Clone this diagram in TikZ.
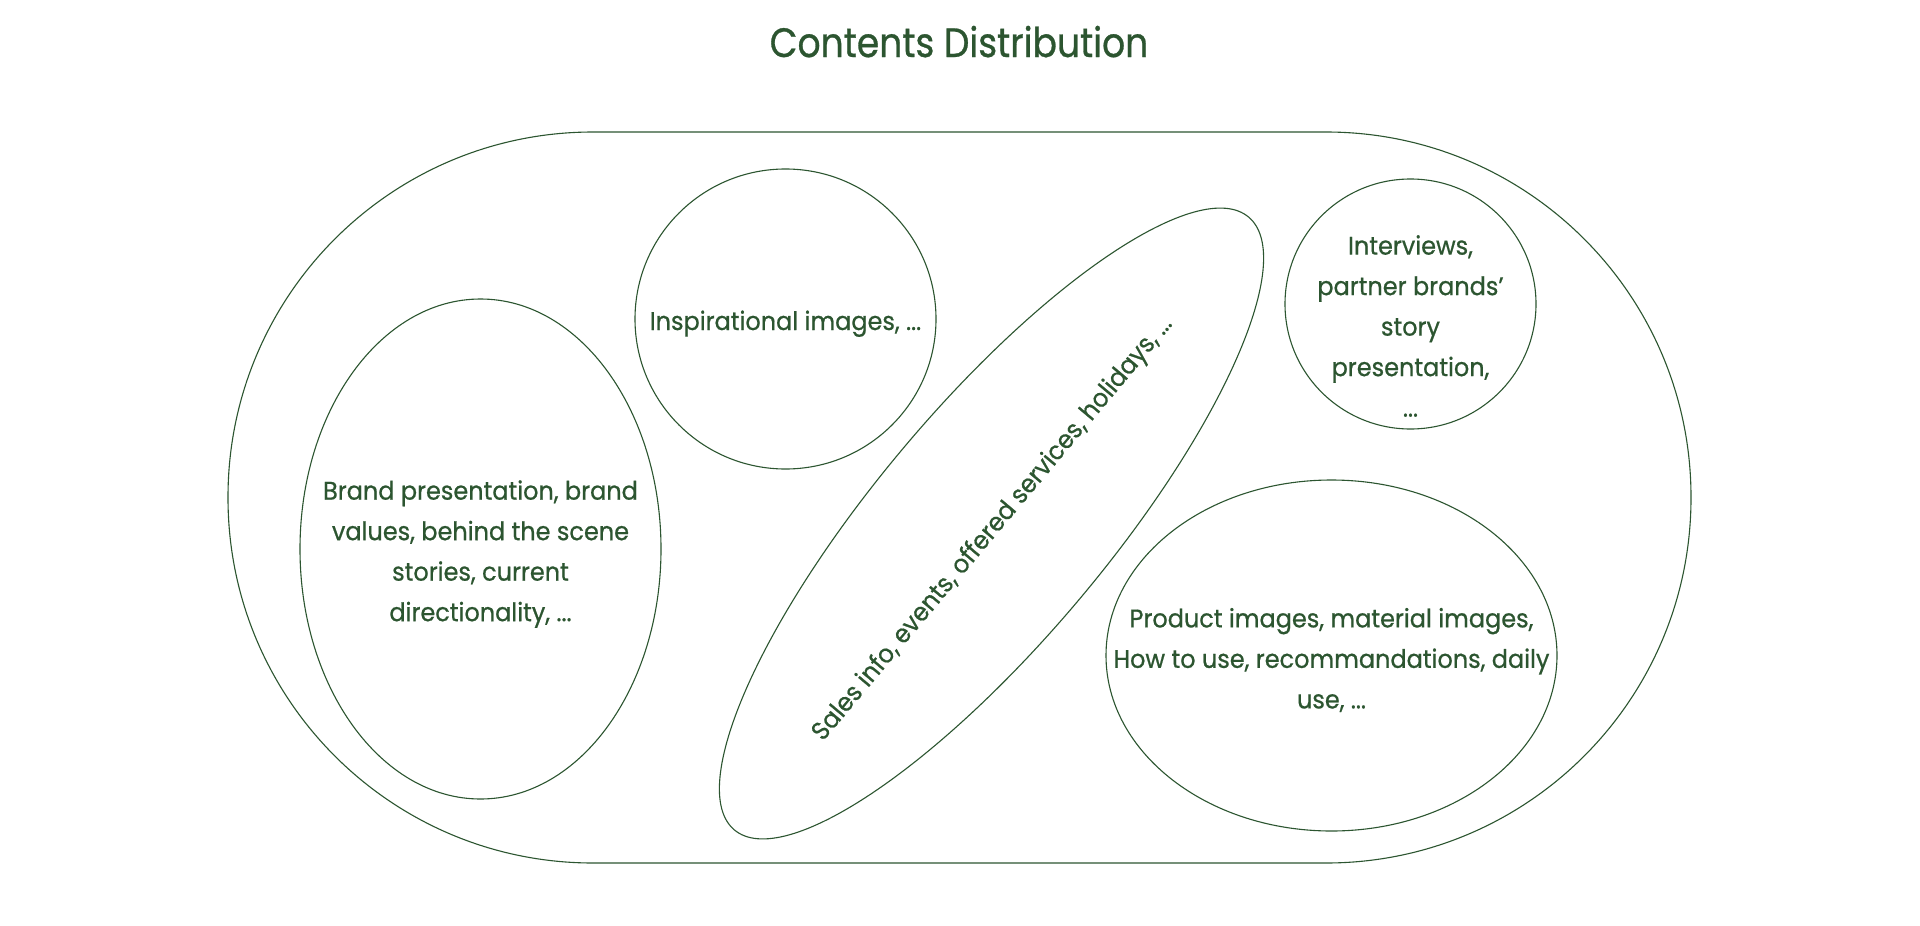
\documentclass[tikz,border=0pt]{standalone}
\usepackage{fontspec}
\setmainfont{Poppins}[FakeStretch=0.94, FakeBold=0.7]
\newfontfamily\titlefont{Poppins}[FakeStretch=0.88, FakeBold=0.7]
\usetikzlibrary{shapes.geometric}
\definecolor{leaf}{RGB}{44,85,48}
\tikzset{
  outline/.style={draw=leaf, line width=1.1pt},
  blob/.style={outline, ellipse, inner sep=0pt},
  label/.style={text=leaf, align=center, inner sep=0pt, font=\fontsize{25.5}{40.5}\selectfont},
}
\begin{document}
\begin{tikzpicture}[x=1pt,y=-1pt]
\useasboundingbox (0,0) rectangle (1920,926);
\fill[white] (0,0) rectangle (1920,926);
% title
\node[text=leaf, anchor=base, inner sep=0pt, font=\titlefont\fontsize{41}{48}\selectfont] (title) at (959,57) {Contents Distribution};
% outer stadium
\draw[outline, rounded corners=365pt] (228,132) rectangle (1691,863);
\coordinate (outer) at (959.5,497.5);
% shapes
\node[blob, minimum width=361pt, minimum height=500pt] (brand) at (480.5,549) {};
\node[blob, minimum width=301pt, minimum height=300pt] (insp) at (785.5,319) {};
\node[blob, minimum width=251pt, minimum height=250pt] (inter) at (1410.5,304) {};
\node[blob, minimum width=451pt, minimum height=351pt] (prod) at (1331.5,655.5) {};
\node[blob, minimum width=800pt, minimum height=232pt, rotate=50] (sales) at (991.5,523.5) {};
% texts
\node[label] (brandtext) at (480.5,554) {Brand presentation, brand\\values, behind the scene\\stories, current\\directionality, ...};
\node[label, anchor=base] (insptext) at (785.5,330) {Inspirational images, ...};
\node[label] (intertext) at (1410.5,326) {Interviews,\\partner brands’\\story\\presentation,\\...};
\node[label] (prodtext) at (1331.5,660) {Product images, material images,\\How to use, recommandations, daily\\use, ...};
\node[label, rotate=50] (salestext) at (993,529) {Sales info, events, offered services, holidays, ...};
\end{tikzpicture}
\end{document}
